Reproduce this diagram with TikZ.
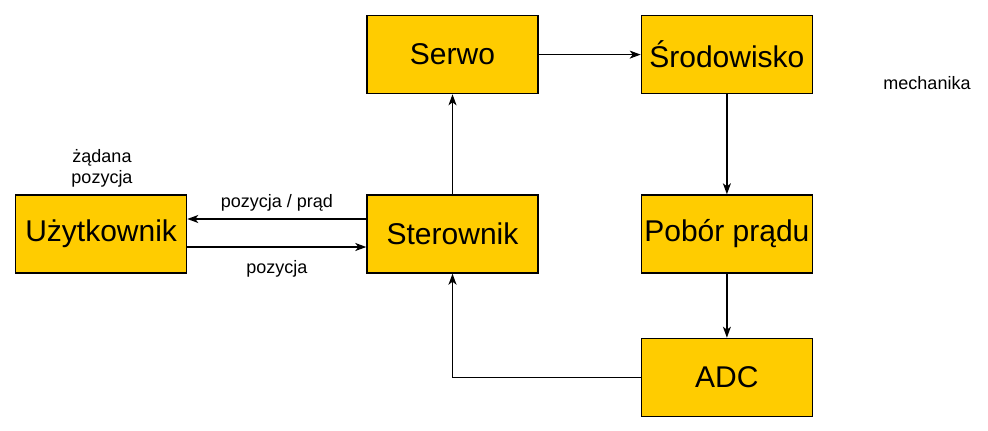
\documentclass[tikz,border=0pt]{standalone}
\usepackage{fontspec}
\setmainfont{Liberation Sans}
\usetikzlibrary{arrows.meta, positioning}
\definecolor{BoxFill}{HTML}{FFCC00}

\begin{document}
\begin{tikzpicture}[
      x=1pt, y=-1pt,
      block/.style={draw=black, fill=BoxFill, line width=1.4pt,
                    minimum width=171pt, minimum height=78pt, inner sep=0pt,
                    font=\fontsize{30}{36}\selectfont},
      note/.style={font=\fontsize{18}{21}\selectfont, align=center, inner sep=0pt},
      link/.style={-{Stealth[length=11pt, width=8pt, inset=3pt]}, line width=1.4pt}
    ]
    \useasboundingbox (0,0) rectangle (988,431);

    \node[block] at (452.5,234)       (ster)  {Sterownik};
    \node[block, above=100pt of ster]  (serwo) {Serwo};
    \node[block, right=102pt of serwo] (srod)  {Środowisko};
    \node[block, below=100pt of srod]  (pobor) {Pobór prądu};
    \node[block, below=64pt of pobor]  (adc)   {ADC};
    \node[block, left=179pt of ster]   (uzyt)  {Użytkownik};

    \node[note] at (927,83)  (mech) {mechanika};
    \node[note] at (102,168) (zad)  {żądana\\pozycja};

    \draw[link] (ster) -- (serwo);
    \draw[link] (serwo) -- (srod);
    \draw[link] (srod) -- (pobor);
    \draw[link] (pobor) -- (adc);
    \draw[link] (adc.west) -| (ster.south);
    \draw[link] ([yshift=15pt]ster.west) -- node[note, above=7pt] (lpp) {pozycja / prąd} ([yshift=15pt]uzyt.east);
    \draw[link] ([yshift=-13pt]uzyt.east) -- node[note, below=13pt] (lpoz) {pozycja} ([yshift=-13pt]ster.west);

  \end{tikzpicture}
\end{document}
